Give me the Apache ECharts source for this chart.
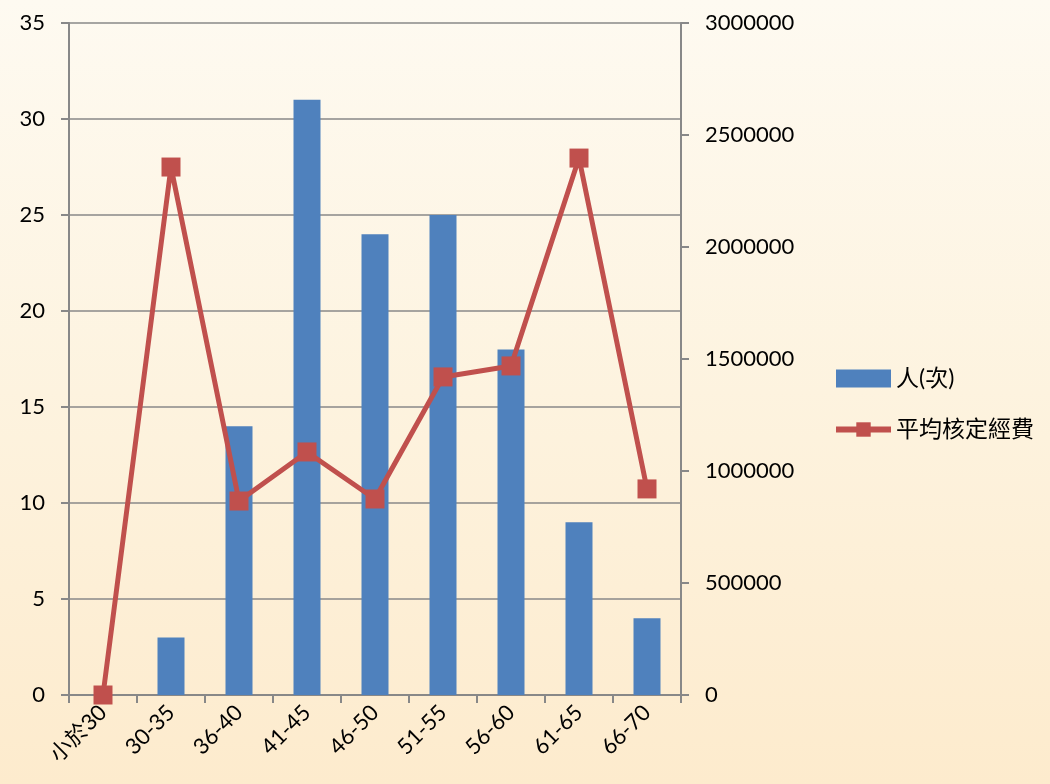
<!DOCTYPE html>
<html>
<head>
<meta charset="utf-8">
<script src="https://cdn.jsdelivr.net/npm/echarts@6/dist/echarts.min.js"></script>
<style>
html,body{margin:0;padding:0;}
#main{width:1050px;height:784px;background:linear-gradient(180deg,#fefaf1 0%,#fdf3df 50%,#fdebcd 100%);}
</style>
</head>
<body>
<div id="main"></div>
<script>
// 年齡分組
var categories = ['小於30', '30-35', '36-40', '41-45', '46-50', '51-55', '56-60', '61-65', '66-70'];
// 人(次)
var personCount = [0, 3, 14, 31, 24, 25, 18, 9, 4];
// 平均核定經費
var avgFunding = [0, 2357000, 866000, 1085000, 875000, 1420000, 1469000, 2397000, 920000];

var chart = echarts.init(document.getElementById('main'), null, {renderer: 'canvas'});
var fontFam = 'Lato, "Noto Sans CJK TC", sans-serif';
var option = {
  backgroundColor: 'transparent',
  textStyle: {fontFamily: fontFam},
  legend: {
    orient: 'vertical',
    left: 828,
    top: 362,
    itemGap: 28,
    itemWidth: 55,
    itemHeight: 18,
    textStyle: {fontSize: 23, color: '#000', fontFamily: fontFam},
    data: [
      {name: '人(次)', icon: 'rect'},
      {name: '平均核定經費', lineStyle: {width: 6}}
    ]
  },
  grid: {left: 69, right: 369, top: 23, bottom: 89},
  xAxis: {
    type: 'category',
    data: categories,
    axisLine: {lineStyle: {color: '#888', width: 2}},
    axisTick: {show: true, alignWithLabel: false, length: 8, lineStyle: {color: '#888', width: 2}},
    axisLabel: {rotate: 45, fontSize: 22, color: '#000', margin: 14, interval: 0}
  },
  yAxis: [
    {
      type: 'value',
      min: 0, max: 35, interval: 5,
      axisLine: {show: true, lineStyle: {color: '#888', width: 2}},
      axisTick: {show: true, length: 8, lineStyle: {color: '#888', width: 2}},
      axisLabel: {fontSize: 22, color: '#000', margin: 24},
      splitLine: {lineStyle: {color: '#888', width: 1.5}}
    },
    {
      type: 'value',
      min: 0, max: 3000000, interval: 500000,
      position: 'right',
      axisLine: {show: true, lineStyle: {color: '#888', width: 2}},
      axisTick: {show: true, length: 8, lineStyle: {color: '#888', width: 2}},
      axisLabel: {fontSize: 22, color: '#000', margin: 24, formatter: function (v) { return String(v); }},
      splitLine: {show: false}
    }
  ],
  series: [
    {
      name: '人(次)',
      type: 'bar',
      data: personCount,
      barWidth: 27,
      itemStyle: {color: '#4f81bd'}
    },
    {
      name: '平均核定經費',
      type: 'line',
      yAxisIndex: 1,
      data: avgFunding,
      symbol: 'rect',
      symbolSize: 19,
      lineStyle: {color: '#c0504d', width: 5},
      itemStyle: {color: '#c0504d'}
    }
  ]
};
chart.setOption(option);
</script>
</body>
</html>
